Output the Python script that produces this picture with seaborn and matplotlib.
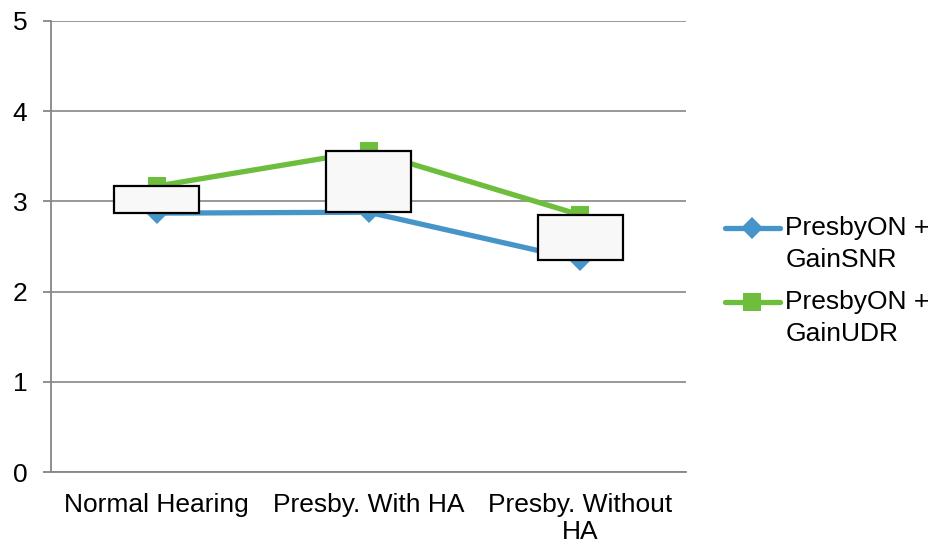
import matplotlib
matplotlib.use("Agg")
import matplotlib.pyplot as plt
from matplotlib.legend_handler import HandlerLine2D
from matplotlib.lines import Line2D
import seaborn as sns
import pandas as pd
import numpy as np

categories = ["Normal Hearing", "Presby. With HA", "Presby. Without\nHA"]
gain_snr = [2.87, 2.88, 2.35]
gain_udr = [3.17, 3.56, 2.85]
series_names = ["PresbyON +\nGainSNR", "PresbyON +\nGainUDR"]
y_ticks = [0, 1, 2, 3, 4, 5]

blue = "#4695C9"
green = "#6CBE3C"
grid_grey = "#868686"
FS = 19


class TopLineHandler(HandlerLine2D):
    """Align the legend sample with the first line of a two-line label."""

    def __init__(self, raise_pts, **kw):
        super().__init__(**kw)
        self.raise_pts = raise_pts

    def create_artists(self, legend, orig_handle, xdescent, ydescent,
                       width, height, fontsize, trans):
        return super().create_artists(legend, orig_handle, xdescent,
                                      ydescent - 2 * self.raise_pts,
                                      width, height, fontsize, trans)


sns.set_theme(style="white")
plt.rcParams["font.family"] = ["Liberation Sans", "DejaVu Sans"]
plt.rcParams["text.color"] = "black"
plt.rcParams["xtick.labelcolor"] = "black"
plt.rcParams["ytick.labelcolor"] = "black"

df = pd.DataFrame({
    "pos": list(range(len(categories))) * 2,
    "value": gain_snr + gain_udr,
    "series": [series_names[0]] * len(categories) + [series_names[1]] * len(categories),
})

fig = plt.figure(figsize=(9.32, 5.44), dpi=100)
ax = fig.add_axes([51 / 932, 72 / 544, (686 - 51) / 932, (472 - 21) / 544])

sns.lineplot(data=df, x="pos", y="value", hue="series", style="series",
             palette=[blue, green], markers=["D", "s"], dashes=False,
             linewidth=3.8, markersize=12, markeredgewidth=0, ax=ax,
             legend=True, zorder=3)
for line, ms in zip(ax.get_lines(), [11, 13]):
    line.set_markersize(ms)

# up-down bars between the two series
lo = np.minimum(gain_snr, gain_udr)
hi = np.maximum(gain_snr, gain_udr)
ax.bar(range(len(categories)), hi - lo, bottom=lo, width=0.40,
       facecolor="#F8F8F8", edgecolor="black", linewidth=1.6, zorder=4)

ax.set_xlim(-0.5, len(categories) - 0.5)
ax.set_ylim(0, 5)
ax.set_yticks(y_ticks)
ax.set_yticklabels([str(t) for t in y_ticks])
ax.set_xticks(range(len(categories)))
ax.set_xticklabels(categories)
for t in ax.get_xticklabels():
    t.set_linespacing(1.15)
ax.set_xticks(np.arange(-0.5, len(categories), 1.0), minor=True)
ax.tick_params(axis="x", which="major", length=0, pad=15, labelsize=FS, colors="black")
ax.tick_params(axis="x", which="minor", length=6, width=1.3, color=grid_grey, direction="out")
ax.tick_params(axis="y", which="major", length=6, width=1.3, color=grid_grey,
               direction="out", pad=11, labelsize=FS, labelcolor="black", left=True)

ax.yaxis.grid(True, color=grid_grey, linewidth=1.2)
ax.xaxis.grid(False)
ax.set_axisbelow(True)
for side in ["top", "right"]:
    ax.spines[side].set_visible(False)
for side in ["left", "bottom"]:
    ax.spines[side].set_color(grid_grey)
    ax.spines[side].set_linewidth(1.3)
ax.set_xlabel("")
ax.set_ylabel("")

handles, labels = ax.get_legend_handles_labels()
for h, ms in zip(handles, [11, 13]):
    h.set_markersize(ms)
leg = ax.legend(handles, labels, loc="center left", bbox_to_anchor=(714 / 932, (544 - 281) / 544),
                bbox_transform=fig.transFigure, frameon=False, fontsize=FS,
                handlelength=2.1, handletextpad=0.2, labelspacing=0.7, borderaxespad=0,
                handler_map={Line2D: TopLineHandler(raise_pts=11.9)})
for t in leg.get_texts():
    t.set_linespacing(1.42)
    t.set_color("black")

fig.savefig("out.png", dpi=100)
